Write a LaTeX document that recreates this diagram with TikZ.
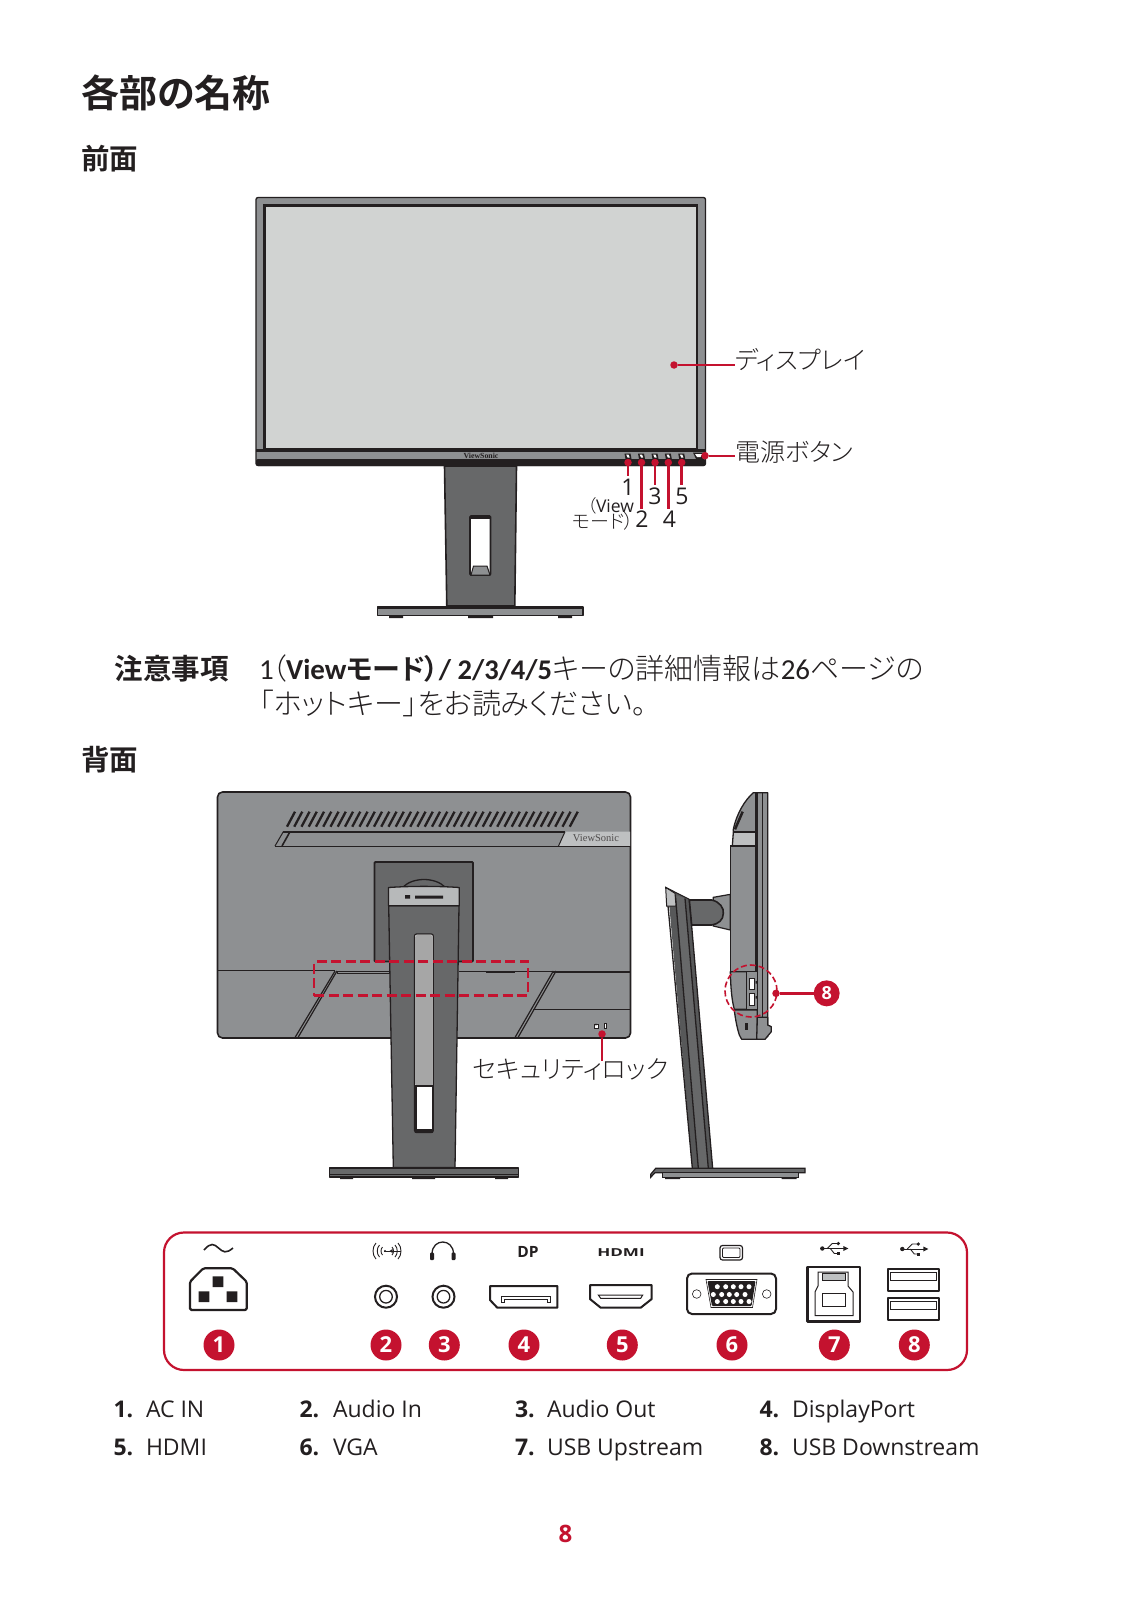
\documentclass[tikz,border=0pt]{standalone}
\usepackage{fontspec}
\setmainfont{Open Sans}
\newfontfamily\jp{Noto Sans CJK JP}[UprightFont=* Light,BoldFont=* Bold,RawFeature=+palt]
\newfontfamily\car{Carlito}
\newfontfamily\logofont{Liberation Serif}
\definecolor{crim}{HTML}{C4122F}
\definecolor{shell}{HTML}{8E9092}
\definecolor{scr}{HTML}{D1D3D2}
\definecolor{stnd}{HTML}{676869}
\definecolor{pale}{HTML}{BEC0C1}
\definecolor{ink}{HTML}{231F20}
\newcommand{\fs}[1]{\fontsize{#1}{#1}\selectfont}
\tikzset{
  every node/.style={inner sep=0pt,outer sep=0pt,text=ink},
  lab/.style={anchor=west,font=\jp\fs{25}},
  num/.style={anchor=center,font=\fs{23}},
  row/.style={anchor=base west,font=\fs{23}},
  rown/.style={anchor=base west,font=\bfseries\fs{23}},
  dotn/.style={circle,fill=crim,minimum size=7.5pt},
  lead/.style={draw=crim,line width=2.4pt},
  badge/.style={circle,fill=crim,minimum size=31pt,text=white,font=\bfseries\fs{22}},
  body/.style={draw=ink,line width=1.3pt,line join=round},
  port/.style={draw=ink,line width=2pt,line join=round,fill=white},
  usbicon/.pic={
    \fill[ink] (-11,0) circle (2.2);
    \draw[ink,line width=.9pt] (-11,0) -- (11,0);
    \fill[ink] (15,0) -- (10,-2.5) -- (10,2.5) -- cycle;
    \draw[ink,line width=.9pt] (-6,0) -- (-1,-5) -- (4,-5);
    \fill[ink] (5,-5) circle (1.8);
    \draw[ink,line width=.9pt] (-3,0) -- (1,5) -- (4,5);
    \fill[ink] (3.5,3.5) rectangle (7,6.8);
  }
}
\begin{document}
\begin{tikzpicture}[x=1pt,y=-1pt]
\useasboundingbox (0,0) rectangle (1132,1600);
\fill[white] (0,0) rectangle (1132,1600);

% headings
\node[anchor=west,font=\jp\bfseries\fs{38}] (h1) at (81,92.5) {各部の名称};
\node[anchor=west,font=\jp\bfseries\fs{28.5}] (h2) at (81,159) {前面};
\node[anchor=west,font=\jp\bfseries\fs{28.5}] (h3) at (81,760) {背面};

% front monitor
\draw[body,fill=shell,rounded corners=2pt] (256,197.5) rectangle (705.5,465.5);
\fill[ink,rounded corners=2pt] (256,459) rectangle (705.5,466);
\fill[ink] (256,448.5) rectangle (705.5,451.5);
\draw[line width=2.4pt,draw=ink,fill=scr] (264.5,205.5) rectangle (697,449);
\node[font=\logofont\bfseries\fs{7.8},text=ink] (logo1) at (481,455.5) {ViewSonic};
\foreach \bx in {628,641.5,655,668.3,681.7}{
  \fill[ink] (\bx-3.5,453.5) -- (\bx+2.5,453.5) -- (\bx+3.5,459) -- (\bx-2.5,459) -- cycle;
  \fill[white] (\bx-1.8,454.5) -- (\bx+.5,454.5) -- (\bx+1.7,457.5) -- (\bx-.5,457.5) -- cycle;
}
\fill[ink] (693,452.5) -- (705,452.5) -- (703,459) -- (696,459) -- cycle;
\fill[white] (695,454) -- (702,454) -- (700.5,457) -- (697,457) -- cycle;
% front stand
\draw[body,line width=1.6pt,fill=stnd] (444.5,466) -- (516.5,466) -- (514.8,606) -- (446.8,606) -- cycle;
\draw[ink,line width=1.6pt,fill=white,rounded corners=1pt] (470,516) rectangle (490.5,575);
\fill[ink] (470,516) rectangle (490.5,518.5);
\draw[ink,line width=1pt,fill=shell] (471,575) -- (473.5,566) -- (487,566) -- (490,575) -- cycle;
\draw[body,fill=shell] (377.5,607) rectangle (583,615.5);
\fill[ink] (377.5,606) rectangle (583,609);
\fill[ink] (389,615.5) rectangle (403,618) (468,615.5) rectangle (493,618) (558,615.5) rectangle (572,618);

% front callouts
\node[dotn] (dD) at (674,365) {};
\node[lab] (disp) at (735,360) {ディスプレイ};
\draw[lead] (dD) -- (disp.west |- dD);
\node[dotn] (dP) at (705,455.7) {};
\node[lab] (pow) at (735,452) {電源ボタン};
\draw[lead] (dP) -- (pow.west |- dP);
\node[dotn] (b1) at (628,462.5) {};
\node[dotn] (b2) at (641.5,462.5) {};
\node[dotn] (b3) at (655,462.5) {};
\node[dotn] (b4) at (668.3,462.5) {};
\node[dotn] (b5) at (681.7,462.5) {};
\coordinate (e1) at (628,475.5);
\coordinate (e2) at (641.5,508.5);
\coordinate (e3) at (655,485);
\coordinate (e4) at (668.3,508.5);
\coordinate (e5) at (681.7,485);
\foreach \n in {1,...,5}{\draw[lead,line width=2.7pt] (b\n) -- (e\n);}
\node[num] (t1) at (628,487.5) {1};
\node[num] (t3) at (655,496.5) {3};
\node[num] (t5) at (682,496.5) {5};
\node[num] (t2) at (642,519) {2};
\node[num] (t4) at (669.5,519) {4};
\node[anchor=east,font=\fs{17.5}] (v1) at (634,506) {\jp（\rmfamily View};
\node[anchor=east,font=\jp\fs{19}] (v2) at (634,521.5) {モード）};

% note
\node[anchor=west,font=\jp\bfseries\fs{28.5}] (note) at (114.5,669) {注意事項};
\node[anchor=west,font=\car\fs{29}] (n1) at (259,669) {1\hspace{-2pt}\jp（\car\bfseries View\jp\fontsize{28}{28}\selectfont モード）\car\fontsize{28.5}{28.5}\selectfont / 2/3/4/5\mdseries\fontsize{29}{29}\selectfont\jp キーの詳細情報は\car 26\jp ページの};
\node[anchor=west,font=\jp\fs{29}] (n2) at (259.5,703) {「ホットキー」をお読みください。};

% rear monitor
\draw[body,line width=1.6pt,fill=shell,rounded corners=5pt] (217.5,792) rectangle (630.5,1038);
\foreach \i in {0,...,39}{
  \draw[ink,line width=2.3pt] ({295+7.25*\i},811.7) -- ({287+7.25*\i},826.7);
}
\fill[pale] (565,831.7) -- (630,831.7) -- (630,846) -- (558.5,846) -- cycle;
\draw[ink,line width=1.6pt] (283.3,831.7) -- (565,831.7);
\draw[ink,line width=1pt] (283.3,831.7) -- (275,846);
\draw[ink,line width=1.6pt] (290,831.7) -- (282,846);
\draw[ink,line width=1pt] (275,846) -- (630,846);
\draw[ink,line width=1pt] (565,831.7) -- (558.5,846);
\node[font=\logofont\fs{10.5},text=ink!80] (logo2) at (596,838.5) {ViewSonic};
\draw[ink,line width=1pt] (218,970.7) -- (335,970.7);
\draw[ink,line width=1pt] (337,971) rectangle (390,973);
\draw[ink,line width=1pt] (459,971) -- (553,971);
\draw[ink,line width=1pt] (486,972) -- (515,972);
\draw[ink,line width=1.2pt] (553,972) -- (630,972);
\draw[ink,line width=1.2pt] (533.3,1009.3) -- (630,1009.3);
\draw[ink,line width=1.2pt] (335,971) -- (295,1037.5);
\draw[ink,line width=1.2pt] (337,971) -- (298,1037.5);
\draw[ink,line width=1.2pt] (553.3,971) -- (515,1037.5);
\draw[ink,line width=1.2pt] (556,971) -- (518,1037.5);
\draw[ink,line width=1pt,fill=white] (594,1024) rectangle (598,1028.5);
\draw[ink,line width=1pt] (595,1024) arc (180:0:1);
\draw[ink,line width=1pt,fill=white] (604,1023.5) rectangle (606.5,1028.5);
% hinge and stand
\draw[ink,line width=1.8pt,fill=stnd,rounded corners=1pt] (374.5,862) rectangle (473,961.5);
\draw[ink,line width=1.3pt] (403,887) .. controls (413,877) and (435,877) .. (445,887);
\draw[body,fill=stnd] (388.7,905.7) -- (393.3,1167.5) -- (455,1167.5) -- (459,905.7) -- cycle;
\draw[body,fill=pale!85!shell] (388.5,887.5) .. controls (410,886) and (438,886) .. (459.3,887.5) -- (459.3,905.7) -- (388.5,905.7) -- cycle;
\fill[ink] (405,895) rectangle (410,898.5) (415,895.5) rectangle (443,898.5);
\draw[ink,line width=1.2pt,fill=white,rounded corners=2pt] (414.5,934) rectangle (433.3,1132.5);
\fill[black!35,rounded corners=2pt] (415.2,935) -- (432.6,935) -- (432.6,1086) -- (415.2,1086) -- cycle;
\draw[ink,line width=1.2pt] (414.5,1086) -- (433.3,1086);
\fill[ink] (414.5,1086) rectangle (416.5,1130);
\fill[ink] (431.5,1086) rectangle (433.3,1130);
\fill[ink] (414.5,1128.5) rectangle (433.3,1132.5);
\draw[body,fill=stnd] (379,1167.3) -- (468.5,1167.3) -- (468.5,1168.5) -- (379,1168.5) -- cycle;
\fill[stnd] (329.5,1168) rectangle (518.5,1177);
\draw[body] (329.5,1168) rectangle (518.5,1177);
\draw[ink,line width=.8pt] (329.5,1174.5) -- (518.5,1174.5);
\fill[ink] (340,1177) rectangle (353,1179) (412,1177) rectangle (435,1179) (495,1177) rectangle (508,1179);
% dashed box
\node[draw=crim,line width=2.7pt,dash pattern=on 10pt off 4.5pt,minimum width=214pt,minimum height=34pt] (zone) at (421,978.7) {};
% security
\node[dotn] (dS) at (602,1034) {};
\node[lab] (sec) at (473,1069) {セキュリティロック};
\coordinate (eS) at (602,1061);
\draw[lead] (dS) -- (eS);

% side view
\begin{scope}[shift={(640,780)},x=.33333pt,y=-.33333pt]
  % stand
  \fill[stnd!85!black] (88,378) -- (77,322) -- (148,358) -- (218,1165) -- (157,1165) -- cycle;
  \fill[stnd] (108,345) -- (135,355) -- (205,1165) -- (175,1165) -- cycle;
  \draw[ink,line width=1.3pt] (84,378) -- (157,1165) (106,345) -- (175,1165) (135,355) -- (205,1165) (148,358) -- (218,1165);
  \draw[ink,line width=1pt,fill=pale] (77,322) -- (105,340) -- (108,378) -- (80,378) -- cycle;
  \draw[ink,line width=1pt] (77,322) -- (148,358);
  % arm
  \draw[ink,line width=1.2pt,fill=shell] (220,352) -- (271,343) -- (271,450) -- (220,438) -- cycle;
  \draw[ink,line width=1.6pt,fill=stnd] (148,360) -- (215,360) .. controls (240,365) and (252,385) .. (250,400) .. controls (250,420) and (235,432) .. (215,435) -- (155,435) -- cycle;
  % head
  \draw[body,fill=shell] (347,38) -- (383,38) -- (383,770) -- (347,778) -- cycle;
  \draw[ink,line width=1pt] (367,38) -- (367,710);
  \draw[ink,line width=1.8pt] (350,38) -- (350,690);
  \draw[body,fill=shell] (340,38) -- (347,38) -- (347,155) -- (280,155) -- (280,148) .. controls (290,100) and (315,60) .. (340,38) -- cycle;
  \draw[ink,line width=2.5pt] (308,95) -- (285,148);
  \draw[body,fill=pale] (280,157) -- (347,157) -- (347,197) -- (277,197) -- cycle;
  \draw[ink,line width=1.8pt] (280,156) -- (347,156) (271,199) -- (347,199);
  \draw[body,fill=shell] (271,200) -- (347,200) -- (347,575) -- (271,575) -- cycle;
  \draw[body,fill=shell] (271,575) -- (320,575) -- (320,688) -- (283,688) .. controls (275,660) and (272,620) .. (271,575) -- cycle;
  \draw[body,fill=shell] (320,575) -- (352,575) -- (352,688) -- (320,688) -- cycle;
  \draw[ink,line width=.8pt,fill=white] (327,595) rectangle (342,627);
  \draw[ink,line width=.8pt,fill=white] (327,640) rectangle (342,675);
  \fill[ink] (347,603) rectangle (351,611) (347,648) rectangle (351,656);
  \draw[body,fill=shell] (283,690) -- (352,690) -- (352,778) -- (305,778) -- (298,765) .. controls (290,740) and (285,710) .. (283,690) -- cycle;
  \fill[ink] (314,730) rectangle (325,750);
  \draw[body,fill=shell] (352,712) -- (383,712) -- (383,735) -- (394,740) -- (394,755) -- (383,768) -- (375,778) -- (350,778) -- cycle;
  % base
  \draw[ink,line width=1.2pt,fill=stnd] (47,1165) -- (495,1165) -- (495,1178) -- (45,1178) -- (32,1192) -- (32,1183) -- cycle;
  \draw[ink,line width=1.2pt,fill=shell] (68,1178) rectangle (475,1192);
  \fill[ink] (75,1192) rectangle (120,1197) (425,1192) rectangle (470,1197);
  % callout
  \node[draw=crim,line width=1.6pt,dash pattern=on 6pt off 3pt,circle,minimum size=52pt] (ring) at (333,633) {};
  \node[dotn] (d8) at (408,640) {};
  \node[badge,minimum size=26pt,font=\bfseries\fs{18}] (s8) at (560,640) {8};
\end{scope}
\draw[lead] (d8) -- (s8);

% connector panel
\draw[draw=crim,line width=2.2pt,rounded corners=20pt] (164,1232.5) rectangle (967,1370) ;
\node[badge] (c1) at (219,1345) {1};
\node[badge] (c2) at (386,1345) {2};
\node[badge] (c3) at (444.3,1345) {3};
\node[badge] (c4) at (524,1345) {4};
\node[badge] (c5) at (622.3,1345) {5};
\node[badge] (c6) at (732,1345) {6};
\node[badge] (c7) at (834.3,1345) {7};
\node[badge] (c8) at (914.3,1345) {8};
% AC
\draw[ink,line width=1.6pt] (204,1250) .. controls (211,1242) and (214,1244) .. (218.5,1248) .. controls (223,1252) and (226,1254) .. (233,1248);
\draw[port,rounded corners=1.5pt,line width=2.2pt] (190,1281.7) -- (203.3,1268.3) -- (232.7,1268.3) -- (246.7,1281.7) -- (246.7,1310) -- (190,1310) -- cycle;
\fill[ink] (212.7,1276.3) rectangle (223.3,1287) (198.7,1291.3) rectangle (209.3,1302) (226.7,1291.3) rectangle (237.3,1302);
% audio icons
\draw[ink,line width=.9pt] (376,1243) .. controls (372,1247) and (372,1255) .. (376,1259);
\draw[ink,line width=.9pt] (379.5,1245) .. controls (376.5,1248) and (376.5,1254) .. (379.5,1257);
\draw[ink,line width=.9pt] (382.5,1247) .. controls (380.5,1249) and (380.5,1253) .. (382.5,1255);
\draw[ink,line width=.9pt] (384,1251) -- (401,1251);
\fill[ink] (385,1251) circle (1.1) (389.5,1251) -- (392.5,1249) -- (392.5,1253) -- cycle;
\draw[ink,line width=.9pt] (392,1247) .. controls (394,1249) and (394,1253) .. (392,1255);
\draw[ink,line width=.9pt] (395,1245) .. controls (398,1248) and (398,1254) .. (395,1257);
\draw[ink,line width=.9pt] (398,1243) .. controls (402,1247) and (402,1255) .. (398,1259);
\draw[ink,line width=1.3pt] (432,1254) .. controls (432,1238) and (453.5,1238) .. (453.5,1254);
\fill[ink,rounded corners=1pt] (430,1252.5) rectangle (434,1260) (451.5,1252.5) rectangle (455.5,1260);
\draw[ink,line width=2pt,fill=white] (386,1296.7) circle (11);
\draw[ink,line width=1.3pt] (386,1296.7) circle (6.3);
\draw[ink,line width=2pt,fill=white] (443.5,1296.7) circle (11);
\draw[ink,line width=1.3pt] (443.5,1296.7) circle (6.3);
% DP
\node[font=\bfseries\fs{15.5}] (dpt) at (528,1252) {DP};
\draw[port] (490,1286) -- (557.3,1286) -- (557.3,1307.7) -- (497.3,1307.7) -- (490,1300) -- cycle;
\draw[ink,line width=1pt] (501,1302.5) -- (501,1296) -- (550.5,1296) -- (550.5,1302.5) -- (547,1302.5) -- (547,1299) -- (504.5,1299) -- (504.5,1302.5) -- cycle;
% HDMI
\node[font=\bfseries\fs{11}] (hd) at (621,1252.5) {\scalebox{1.55}[1]{HDMI}};
\draw[port] (590,1285) -- (651.7,1285) -- (651.7,1299) -- (640.7,1307.7) -- (600.7,1307.7) -- (590,1299) -- cycle;
\draw[ink,line width=1pt] (598.3,1295) -- (642.7,1295) -- (640.7,1298.3) -- (600.7,1298.3) -- cycle;
% VGA
\draw[ink,line width=1.2pt,rounded corners=2.5pt] (720,1245.5) rectangle (742.5,1260);
\draw[ink,line width=.8pt,rounded corners=1pt] (722.5,1248) rectangle (740,1257.5);
\draw[port,rounded corners=5pt] (687,1273.5) rectangle (776,1314);
\draw[ink,line width=.6pt] (696.7,1294) circle (4.3) (766.7,1294) circle (4.3);
\draw[ink,line width=.6pt] (706,1279.5) -- (757,1279.5) -- (752.5,1307.5) -- (711,1307.5) -- cycle;
\fill[ink,rounded corners=1pt] (707.5,1281) -- (755.5,1281) -- (751.5,1306) -- (712,1306) -- cycle;
\foreach \px in {717.3,725.7,733.3,741,749}{\fill[white] (\px,1286.7) circle (2.5);}
\foreach \px in {713.3,721.7,729.3,736.7,745}{\fill[white] (\px,1294.5) circle (2.5);}
\foreach \px in {717.3,725.7,733.3,741,749}{\fill[white] (\px,1301.5) circle (2.5);}
% USB
\pic at (833.3,1248.5) {usbicon};
\pic at (913.3,1249) {usbicon};
\draw[port,line width=2.2pt] (807.5,1267) rectangle (860,1321.5);
\draw[ink,line width=1pt] (818,1272) -- (848,1272) -- (848,1286) -- (853,1292) -- (853,1315.5) -- (815,1315.5) -- (815,1292) -- (818,1286) -- cycle;
\draw[ink,line width=1pt,fill=pale] (822,1273.5) rectangle (845,1280);
\draw[ink,line width=1pt] (822,1293.5) rectangle (845,1306);
\draw[port] (887.5,1268.5) rectangle (939,1290.5);
\draw[ink,line width=.8pt,fill=white] (890.5,1272) -- (936,1272) -- (936,1280) -- (890.5,1280) -- cycle;
\draw[port] (887.5,1297.5) rectangle (939,1319.5);
\draw[ink,line width=.8pt,fill=white] (890.5,1301) -- (936,1301) -- (936,1309) -- (890.5,1309) -- cycle;

% legend
\node[rown] (l1n) at (113.5,1417) {1.}; \node[row] (l1) at (146,1417) {AC IN};
\node[rown] (l2n) at (299.5,1417) {2.}; \node[row] (l2) at (333,1417) {Audio In};
\node[rown] (l3n) at (515,1417) {3.}; \node[row] (l3) at (547,1417) {Audio Out};
\node[rown] (l4n) at (759.5,1417) {4.}; \node[row] (l4) at (792,1417) {DisplayPort};
\node[rown] (l5n) at (113.5,1455) {5.}; \node[row] (l5) at (146,1455) {HDMI};
\node[rown] (l6n) at (299.5,1455) {6.}; \node[row] (l6) at (333,1455) {VGA};
\node[rown] (l7n) at (515,1455) {7.}; \node[row] (l7) at (547,1455) {USB Upstream};
\node[rown] (l8n) at (759.5,1455) {8.}; \node[row] (l8) at (792,1455) {USB Downstream};
\node[font=\bfseries\fs{24},text=crim] (pg) at (565.5,1534) {8};
\end{tikzpicture}
\end{document}
